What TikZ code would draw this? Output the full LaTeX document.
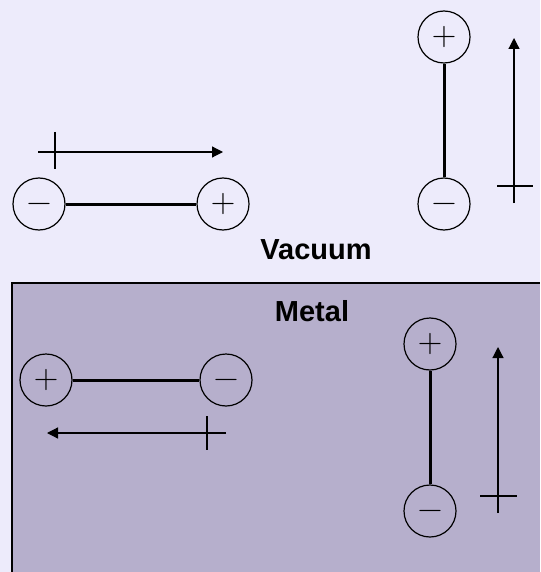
\documentclass[tikz,border=0pt]{standalone}
\usepackage{fontspec}
\setsansfont{Liberation Sans}
\usepackage{tikz}
\usetikzlibrary{arrows.meta, positioning}

\definecolor{vacbg}{RGB}{237,235,251}
\definecolor{metalbg}{RGB}{182,175,204}

\tikzset{
  atom/.style={circle, draw, line width=1.2pt, minimum size=52pt, inner sep=0pt,
    text height=17pt, text depth=-17pt, font=\fontsize{34}{34}\selectfont},
  bond/.style={line width=3pt},
  field/.style={line width=1.2pt, -{Triangle[length=11pt,width=11pt]}},
  fieldtick/.style={line width=1.2pt},
  regiontext/.style={font=\sffamily\bfseries\fontsize{29}{29}\selectfont, anchor=base}
}

\begin{document}
\begin{tikzpicture}[x=1pt, y=-1pt]
		\useasboundingbox[fill=vacbg] (0,0) rectangle (540,572);
		% metal slab
		\fill[metalbg] (12,283) rectangle (540,572);
		\draw[line width=1.6pt] (12,572) -- (12,283) -- (540,283);
		\node[regiontext] (vaclabel) at (316,259) {Vacuum};
		\node[regiontext] (metlabel) at (312,321) {Metal};

		% vacuum, horizontal dipole
		\node[atom] (vneg) at (39,204) {−};
		\node[atom] (vpos) at (223,204) {+};
		\draw[bond] (vneg) -- (vpos);
		\coordinate (vhtail) at (38,152);
		\coordinate (vhhead) at (223,152);
		\draw[field] (vhtail) -- (vhhead);
		\draw[fieldtick] (55,132) -- (55,169);

		% vacuum, vertical dipole
		\node[atom] (vtop) at (444,37) {+};
		\node[atom] (vbot) at (444,204) {−};
		\draw[bond] (vbot) -- (vtop);
		\coordinate (vvtail) at (514,203);
		\coordinate (vvhead) at (514,38);
		\draw[field] (vvtail) -- (vvhead);
		\draw[fieldtick] (497,186) -- (533,186);

		% metal, horizontal dipole
		\node[atom] (mpos) at (46,380) {+};
		\node[atom] (mneg) at (226,380) {−};
		\draw[bond] (mpos) -- (mneg);
		\coordinate (mhtail) at (226,433);
		\coordinate (mhhead) at (47,433);
		\draw[field] (mhtail) -- (mhhead);
		\draw[fieldtick] (207,416) -- (207,450);

		% metal, vertical dipole
		\node[atom] (mtop) at (430,344) {+};
		\node[atom] (mbot) at (430,511) {−};
		\draw[bond] (mbot) -- (mtop);
		\coordinate (mvtail) at (498,513);
		\coordinate (mvhead) at (498,347);
		\draw[field] (mvtail) -- (mvhead);
		\draw[fieldtick] (480,496) -- (517,496);
	\end{tikzpicture}
\end{document}
